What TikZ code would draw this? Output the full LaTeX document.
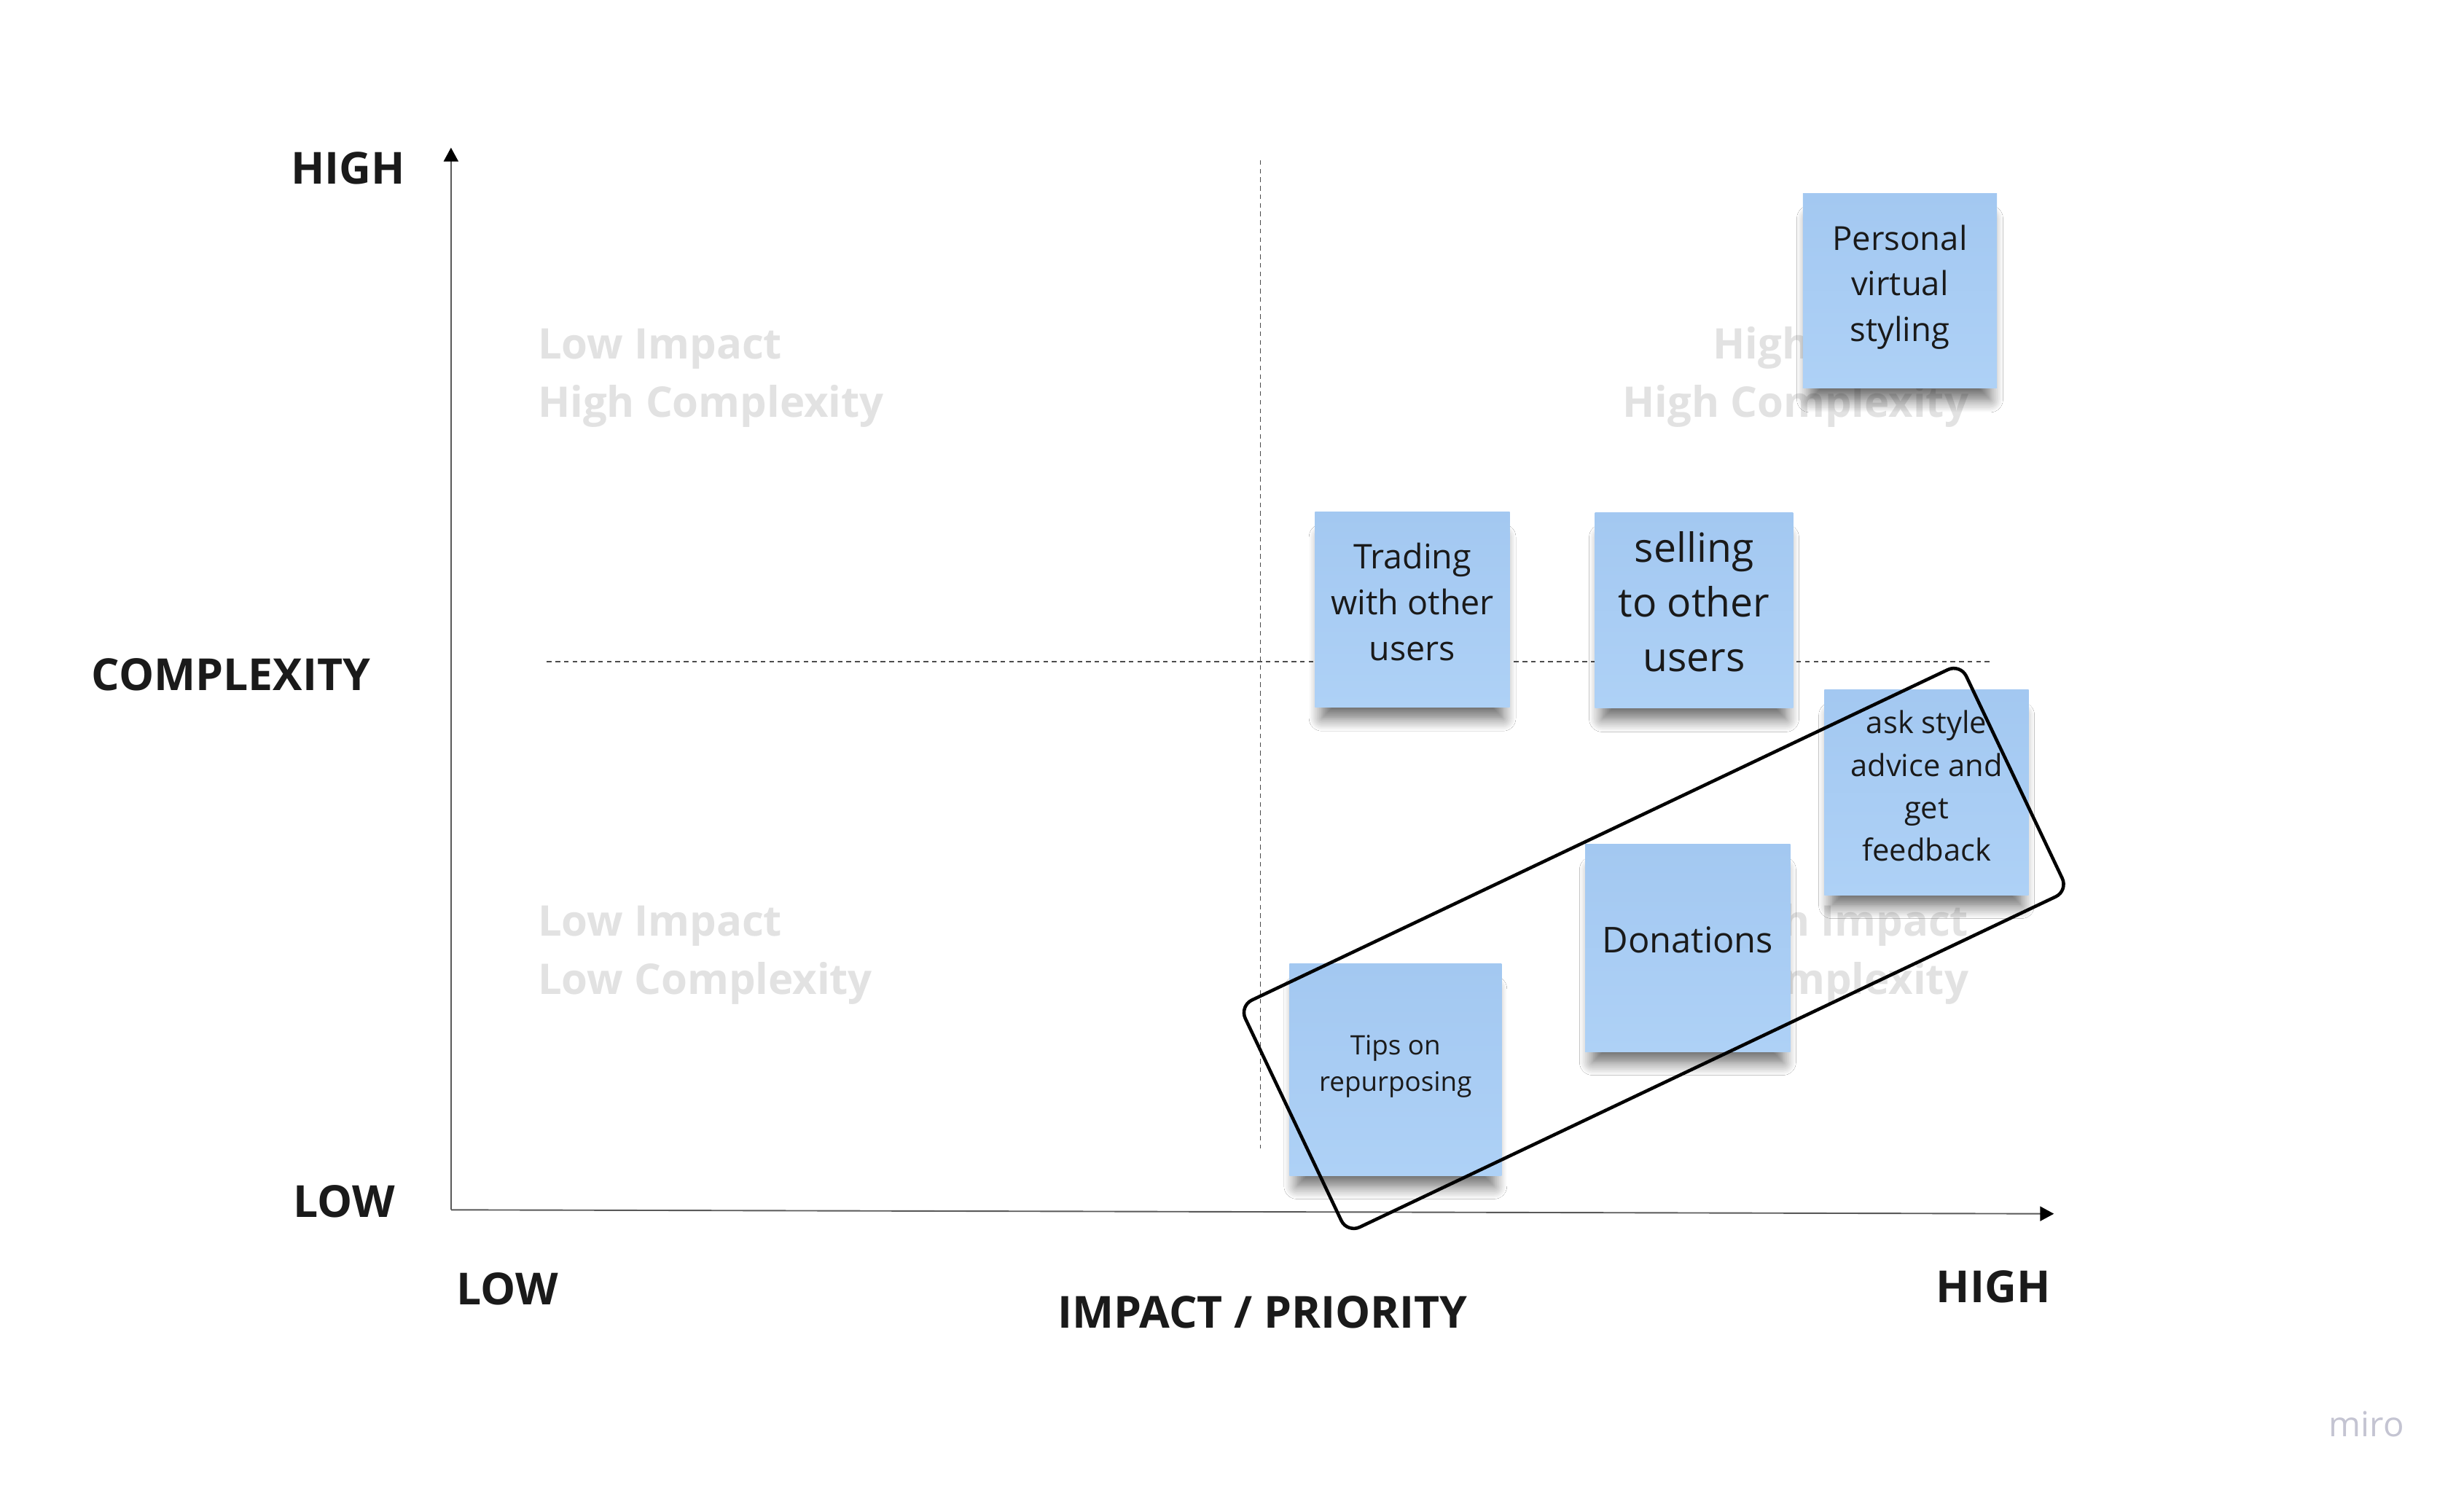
\documentclass[tikz,border=0pt]{standalone}
\usepackage{fontspec}
\setmainfont{Open Sans}
\usetikzlibrary{arrows.meta,shadows.blur}

\definecolor{inkblack}{HTML}{1A1A1A}
\definecolor{wmgray}{HTML}{E2E2E2}
\definecolor{stickytop}{HTML}{A3C8F1}
\definecolor{stickybot}{HTML}{AED1F6}
\definecolor{brandgray}{HTML}{C4C4D2}

\begin{document}
\begin{tikzpicture}[
        x=0.02cm, y=-0.02cm,
        axislabel/.style={font=\fontsize{16}{19}\selectfont\bfseries, text=inkblack, inner sep=0pt, anchor=base},
        quadrant/.style={font=\fontsize{15.3}{21.1}\selectfont\bfseries, text=wmgray, inner sep=0pt, anchor=base west, align=left},
        quadrantr/.style={quadrant, anchor=base east, align=right},
        axis/.style={draw=black!65, line width=0.5pt, -{Triangle[length=5pt,width=5.3pt,black]}},
        divider/.style={draw=black!70, line width=0.4pt, dash pattern=on 1.7pt off 1.4pt},
        sticky/.style={top color=stickytop, bottom color=stickybot, text=inkblack, inner sep=0pt, align=center,
            blur shadow={shadow xshift=0pt, shadow yshift=-7pt, shadow scale=0.93, shadow blur radius=5pt, shadow blur steps=12, shadow opacity=60}},
        lift/.style={execute at end node={\rule[-#1]{0pt}{#1}}},
        cluster/.style={draw=black, line width=1.2pt, rounded corners=5pt},
    ]
    % background
    \useasboundingbox[fill=white] (0,0) rectangle (1568,952);

    % quadrant captions
    \node[quadrant](lowhigh) at (342,265.6){Low Impact\\High Complexity};
    \node[quadrantr](highhigh) at (1253,265.6){High Impact\\High Complexity};
    \node[quadrant](lowlow) at (342,633){Low Impact\\Low Complexity};
    \node[quadrantr](highlow) at (1253,633){High Impact\\Low Complexity};

    % dividers
    \coordinate (vtop) at (802,102);
    \coordinate (vbot) at (802,731);
    \coordinate (hleft) at (348,421);
    \coordinate (hright) at (1268,421);
    \draw[divider] (vtop) -- (vbot);
    \draw[divider] (hleft) -- (hright);

    % axes
    \coordinate (origin) at (287,770);
    \coordinate (ytip) at (287,94);
    \coordinate (xtip) at (1307,772.5);
    \draw[axis] (origin) -- (ytip);
    \draw[axis] (origin) -- (xtip);

    \node[axislabel](yhigh) at (221.5,117){HIGH};
    \node[axislabel](ytitle) at (147,439.5){COMPLEXITY};
    \node[axislabel](ylow) at (219,774.5){LOW};
    \node[axislabel](xlow) at (323,830.5){LOW};
    \node[axislabel](xtitle) at (803.5,845){IMPACT / PRIORITY};
    \node[axislabel](xhigh) at (1268.5,829){HIGH};

    % stickies
    \node[sticky, lift=5.7pt, minimum width=2.47cm, minimum height=2.48cm, font=\fontsize{12}{16.5}\selectfont](personal) at (1209,185.2){Personal\\virtual\\styling};
    \node[sticky, lift=5.8pt, minimum width=2.48cm, minimum height=2.48cm, font=\fontsize{12.3}{16.7}\selectfont](trading) at (898.8,388){Trading\\with other\\users};
    \node[sticky, lift=6.3pt, minimum width=2.52cm, minimum height=2.49cm, font=\fontsize{14.6}{19.8}\selectfont](selling) at (1078,388.3){selling\\to other\\users};
    \node[sticky, lift=4.7pt, minimum width=2.6cm, minimum height=2.61cm, font=\fontsize{11}{15.4}\selectfont](askstyle) at (1226,504.3){ask style\\advice and\\get\\feedback};
    \node[sticky, lift=5.8pt, minimum width=2.61cm, minimum height=2.64cm, font=\fontsize{12.9}{16}\selectfont](donations) at (1074,603.3){Donations};
    \node[sticky, lift=4.5pt, minimum width=2.7cm, minimum height=2.7cm, font=\fontsize{9.7}{13.2}\selectfont](tips) at (888,680.7){Tips on\\repurposing};

    % selection outline
    \node[cluster, minimum width=10.16cm, minimum height=3.2cm, rotate=25.4](selection) at (1052.4,603.6){};

    % brand mark
    \node[font=\fontsize{12.5}{15}\selectfont, text=brandgray, inner sep=0pt, anchor=base](miro) at (1506,914.5){miro};
\end{tikzpicture}
\end{document}
